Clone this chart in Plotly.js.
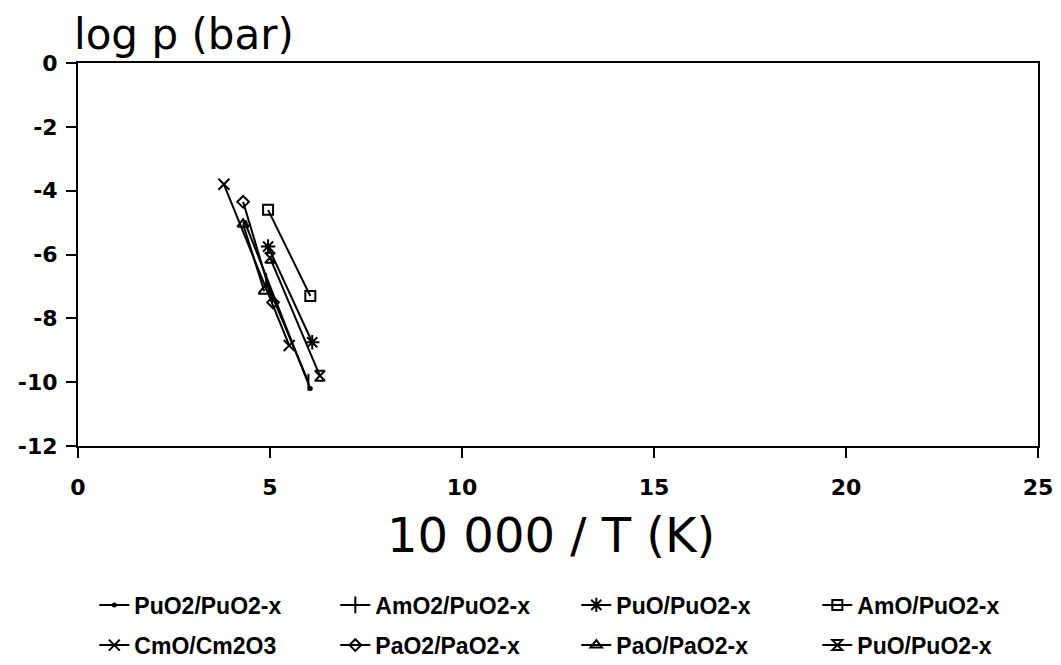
<!DOCTYPE html>
<html>
<head>
<meta charset="utf-8">
<script src="https://cdn.plot.ly/plotly-3.0.1.min.js"></script>
<style>
  html, body { margin: 0; padding: 0; background: #fff; }
  #chart { width: 1061px; height: 665px; }
</style>
</head>
<body>
<div id="chart"></div>
<script>
// Vapour pressure lines: log p (bar) against 10 000 / T (K)
const seriesNames = [
  "PuO2/PuO2-x", "AmO2/PuO2-x", "PuO/PuO2-x", "AmO/PuO2-x",
  "CmO/Cm2O3", "PaO2/PaO2-x", "PaO/PaO2-x", "PuO/PuO2-x"
];
const seriesX = [
  [4.35, 6.05],
  [4.9, 6.0],
  [4.95, 6.1],
  [4.95, 6.05],
  [3.8, 5.5],
  [4.3, 5.08],
  [4.3, 4.85],
  [5.0, 6.3]
];
const seriesY = [
  [-5.0, -10.2],
  [-6.85, -10.0],
  [-5.75, -8.75],
  [-4.6, -7.3],
  [-3.8, -8.85],
  [-4.35, -7.5],
  [-5.05, -7.15],
  [-6.1, -9.8]
];
const seriesSymbols = [
  "circle", "line-ns-open", "asterisk-open", "square-open",
  "x-thin-open", "diamond-open", "triangle-up-open", "hourglass-open"
];
const seriesSizes = [3, 12, 12, 10, 11, 9, 10, 10];
const xTicks = [0, 5, 10, 15, 20, 25];
const yTicks = [0, -2, -4, -6, -8, -10, -12];

// first row of the key goes in "legend", second row in "legend2"
const traces = seriesNames.map((name, i) => ({
  type: "scatter",
  mode: "lines+markers",
  name: name,
  legend: i < 4 ? "legend" : "legend2",
  x: seriesX[i],
  y: seriesY[i],
  line: { color: "#000", width: 2 },
  marker: {
    symbol: seriesSymbols[i],
    size: seriesSizes[i],
    color: "#000",
    line: { color: "#000", width: 2 }
  }
}));

const tickFont = { family: "DejaVu Sans, sans-serif", size: 22, color: "#000", weight: "bold" };
const keyFont = { family: "Liberation Sans, Arial, sans-serif", size: 23, color: "#000", weight: "bold" };

const legendBase = {
  orientation: "h",
  x: 0.017, xanchor: "left",
  yanchor: "middle",
  entrywidth: 196,
  entrywidthmode: "pixels",
  font: keyFont,
  bgcolor: "rgba(0,0,0,0)"
};

const layout = {
  width: 1061,
  height: 665,
  paper_bgcolor: "#fff",
  plot_bgcolor: "#fff",
  margin: { l: 78, r: 23, t: 63, b: 219, autoexpand: false },
  showlegend: true,
  xaxis: {
    range: [0, 25],
    tickvals: xTicks,
    ticktext: xTicks.map(String),
    tickfont: tickFont,
    ticks: "outside",
    ticklen: 10,
    tickwidth: 2,
    tickcolor: "#000",
    ticklabelstandoff: 11,
    showline: true,
    linecolor: "#000",
    linewidth: 2,
    mirror: true,
    showgrid: false,
    zeroline: false,
    automargin: false
  },
  yaxis: {
    range: [-12, 0],
    tickvals: yTicks,
    ticktext: yTicks.map(v => v < 0 ? "-" + Math.abs(v) : String(v)),
    tickfont: tickFont,
    ticks: "outside",
    ticklen: 10,
    tickwidth: 2,
    tickcolor: "#000",
    ticklabelstandoff: 4,
    showline: true,
    linecolor: "#000",
    linewidth: 2,
    mirror: true,
    showgrid: false,
    zeroline: false,
    automargin: false
  },
  annotations: [
    {
      text: "log p (bar)",
      xref: "paper", yref: "paper",
      x: 0, y: 1,
      xanchor: "left", yanchor: "bottom",
      xshift: -6, yshift: 2,
      showarrow: false,
      font: { family: "DejaVu Sans, sans-serif", size: 42, color: "#000" }
    },
    {
      text: "10 000 / T (K)",
      xref: "paper", yref: "paper",
      x: 0.5, y: 0,
      xanchor: "center", yanchor: "middle",
      xshift: -7, yshift: -89,
      showarrow: false,
      font: { family: "DejaVu Sans, sans-serif", size: 48, color: "#000" }
    }
  ],
  legend: Object.assign({}, legendBase, { y: -0.415 }),
  legend2: Object.assign({}, legendBase, { y: -0.52 })
};

Plotly.newPlot("chart", traces, layout, { displayModeBar: false, staticPlot: true });
</script>
</body>
</html>
